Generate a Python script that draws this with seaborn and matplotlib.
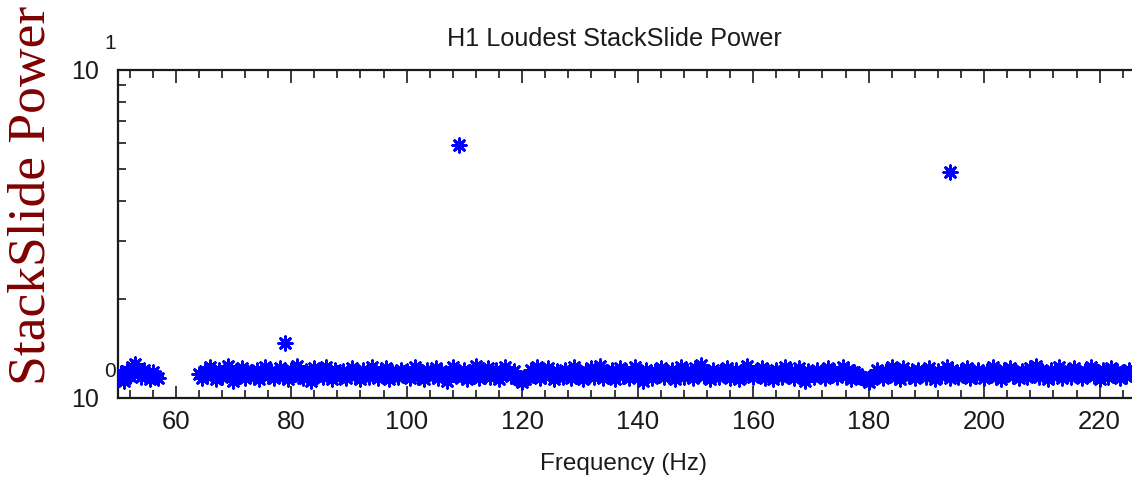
import matplotlib

matplotlib.use("Agg")
import matplotlib.pyplot as plt
import matplotlib.transforms as mtransforms
from matplotlib.ticker import MultipleLocator, LogLocator, NullFormatter
import numpy as np
import pandas as pd
import seaborn as sns

# frequency bins (Hz): low band below the 60 Hz line gap, then the main band
freq_low = np.arange(50.0, 57.01, 0.5)
freq_main = np.arange(64.0, 225.51, 0.5)

# loudest StackSlide power per bin
power_low = [1.15, 1.19, 1.13, 1.21, 1.17, 1.24, 1.27, 1.20, 1.16, 1.22,
             1.18, 1.14, 1.20, 1.17, 1.15]
power_main = [
    1.18, 1.15, 1.21, 1.17, 1.24, 1.19, 1.14, 1.22, 1.16, 1.20, 1.25, 1.18, 1.13, 1.21, 1.17, 1.23, 1.15, 1.19,
    1.20, 1.16, 1.22, 1.14, 1.18, 1.24, 1.17, 1.21, 1.15, 1.19, 1.23, 1.16, 1.20, 1.14, 1.22, 1.18, 1.25, 1.17,
    1.15, 1.21, 1.19, 1.13, 1.23, 1.17, 1.20, 1.16, 1.24, 1.18, 1.14, 1.22, 1.19, 1.16, 1.21, 1.15, 1.18, 1.23,
    1.17, 1.20, 1.14, 1.22, 1.18, 1.16, 1.24, 1.19, 1.15, 1.21, 1.17, 1.23, 1.14, 1.20, 1.18, 1.16, 1.22, 1.19,
    1.21, 1.15, 1.18, 1.24, 1.16, 1.20, 1.14, 1.22, 1.19, 1.17, 1.23, 1.15, 1.21, 1.18, 1.13, 1.20, 1.24, 1.17,
    1.19, 1.16, 1.22, 1.14, 1.20, 1.18, 1.25, 1.15, 1.21, 1.17, 1.23, 1.16, 1.19, 1.22, 1.14, 1.18, 1.24, 1.20,
    1.17, 1.21, 1.15, 1.14, 1.12, 1.14, 1.16, 1.22, 1.18, 1.24, 1.15, 1.20, 1.17, 1.23, 1.19, 1.14, 1.21, 1.18,
    1.16, 1.22, 1.19, 1.15, 1.24, 1.18, 1.20, 1.14, 1.21, 1.17, 1.23, 1.16, 1.19, 1.25, 1.15, 1.20, 1.18, 1.22,
    1.14, 1.19, 1.23, 1.17, 1.21, 1.15, 1.18, 1.24, 1.16, 1.20, 1.13, 1.22, 1.18, 1.15, 1.21, 1.19, 1.23, 1.16,
    1.20, 1.17, 1.22, 1.14, 1.19, 1.24, 1.16, 1.21, 1.18, 1.15, 1.23, 1.19, 1.26, 1.17, 1.20, 1.14, 1.22, 1.18,
    1.16, 1.21, 1.19, 1.23, 1.15, 1.18, 1.22, 1.14, 1.20, 1.17, 1.25, 1.19, 1.16, 1.21, 1.18, 1.23, 1.15, 1.20,
    1.18, 1.14, 1.22, 1.19, 1.16, 1.24, 1.17, 1.21, 1.15, 1.20, 1.23, 1.18, 1.13, 1.21, 1.19, 1.16, 1.22, 1.17,
    1.20, 1.15, 1.23, 1.18, 1.21, 1.16, 1.19, 1.24, 1.17, 1.22, 1.14, 1.20, 1.18, 1.16, 1.15, 1.14, 1.12, 1.14,
    1.17, 1.22, 1.19, 1.15, 1.21, 1.18, 1.24, 1.16, 1.20, 1.14, 1.23, 1.19, 1.17, 1.21, 1.15, 1.22, 1.18, 1.20,
    1.16, 1.23, 1.19, 1.14, 1.21, 1.17, 1.20, 1.24, 1.15, 1.22, 1.18, 1.16, 1.21, 1.19, 1.23, 1.15, 1.20, 1.17,
    1.22, 1.18, 1.15, 1.21, 1.19, 1.24, 1.16, 1.20, 1.14, 1.22, 1.18, 1.23, 1.17, 1.20, 1.15, 1.21, 1.19, 1.16,
    1.23, 1.18, 1.25, 1.16, 1.21, 1.19, 1.14, 1.22, 1.17, 1.20, 1.24, 1.15, 1.19, 1.21, 1.16, 1.23, 1.18, 1.20,
    1.15, 1.21, 1.18, 1.24, 1.17, 1.20, 1.14, 1.22, 1.19, 1.16, 1.23, 1.18, 1.21, 1.15, 1.20, 1.17, 1.22, 1.19,
]

# the few loud candidates standing above the noise floor
freq_loud = [79.0, 109.0, 194.0]
power_loud = [1.47, 5.9, 4.9]

x_ticks = [60, 80, 100, 120, 140, 160, 180, 200, 220]
y_ticks = [1, 10]
y_exponents = ["0", "1"]

df = pd.DataFrame({
    "freq": np.concatenate([freq_low, freq_main, freq_loud]),
    "power": np.concatenate([power_low, power_main, power_loud]),
})

sns.set_style("ticks")
plt.rcParams["font.family"] = ["Liberation Sans", "DejaVu Sans"]
INK = "#1a1a1a"

fig = plt.figure(figsize=(11.32, 4.78), dpi=100)
ax = fig.add_axes([0.1042, 0.1674, 0.8958, 0.6862])

sns.scatterplot(data=df, x="freq", y="power", marker=(8, 2, 0), color="#0000ff",
                s=95, linewidth=2.0, ax=ax, zorder=3)

ax.set_yscale("log")
ax.set_xlim(50, 225.6)
ax.set_ylim(1, 10)

ax.xaxis.set_major_locator(MultipleLocator(20))
ax.xaxis.set_minor_locator(MultipleLocator(4))
ax.set_xticks(x_ticks, [str(t) for t in x_ticks])
ax.yaxis.set_major_locator(LogLocator(base=10))
ax.yaxis.set_minor_locator(LogLocator(base=10, subs=np.arange(2, 10)))
ax.yaxis.set_minor_formatter(NullFormatter())
ax.set_yticks(y_ticks, ["10", "10"])

ax.tick_params(axis="x", which="both", direction="in", top=True, bottom=True,
               labelsize=18.5, pad=9, colors=INK)
ax.tick_params(axis="y", which="both", direction="in", left=True, right=False,
               labelsize=18, pad=14, colors=INK)
ax.tick_params(which="major", length=9, width=1.2)
ax.tick_params(which="minor", length=5.5, width=1.2)

for side in ["left", "bottom", "top"]:
    ax.spines[side].set_linewidth(1.6)
    ax.spines[side].set_color(INK)
ax.spines["right"].set_visible(False)

# IDL-style exponents floating above each "10"
exp_tr = mtransforms.offset_copy(ax.get_yaxis_transform(), fig=fig, x=0, y=26, units="dots")
for yv, ex in zip(y_ticks, y_exponents):
    ax.text(-0.008, yv, ex, transform=exp_tr, ha="center", va="center",
            fontsize=15, color=INK, clip_on=False)

ax.set_xlabel("")
ax.set_ylabel("")
fig.text(0.543, 0.918, "H1 Loudest StackSlide Power", ha="center", va="center",
         fontsize=18.2, color=INK)
fig.text(0.551, 0.030, "Frequency (Hz)", ha="center", va="center",
         fontsize=17.5, color=INK)
fig.text(0.028, 0.592, "StackSlide Power", rotation=90, ha="center", va="center",
         fontsize=38.5, color="#800000", family=["Liberation Serif", "DejaVu Serif"])

fig.savefig("out.png", dpi=100)
plt.close(fig)
